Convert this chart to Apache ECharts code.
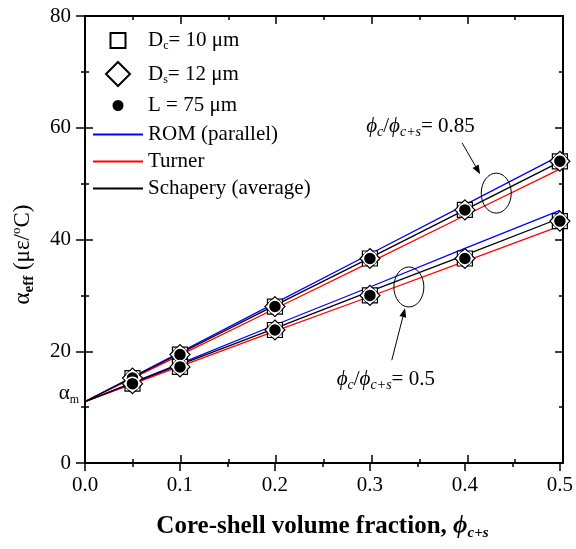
<!DOCTYPE html>
<html>
<head>
<meta charset="utf-8">
<script src="https://cdn.jsdelivr.net/npm/echarts@6/dist/echarts.min.js"></script>
<style>
  html, body { margin: 0; padding: 0; background: #fff; }
  #main { width: 576px; height: 549px; }
</style>
</head>
<body>
<div id="main"></div>
<script>
// model curves
const xLine = [0, 0.1, 0.2, 0.3, 0.4, 0.5];
const romHigh = [11, 19.8, 28.6, 37.4, 46.2, 55.0];
const schHigh = [11, 19.6, 28.2, 36.7, 45.3, 53.9];
const turHigh = [11, 19.3, 27.6, 35.9, 44.3, 52.6];
const romLow = [11, 17.8, 24.7, 31.5, 38.4, 45.2];
const schLow = [11, 17.6, 24.1, 30.7, 37.2, 43.8];
const turLow = [11, 17.3, 23.6, 29.8, 36.1, 42.4];

// measured points (three specimen types overlap)
const xMark = [0.05, 0.1, 0.2, 0.3, 0.4, 0.5];
const markHigh = [15.2, 19.4, 28.0, 36.6, 45.3, 54.0];
const markLow = [14.2, 17.2, 23.8, 30.0, 36.6, 43.3];

const alphaM = 11;

const FONT = 'Liberation Serif';
const pairs = (xs, ys) => xs.map((x, i) => [x, ys[i]]);

let myChart = echarts.init(document.getElementById('main'));

const lineSeries = (name, color, ys) => ({
    name: name, type: 'line', data: pairs(xLine, ys),
    xAxisIndex: 0, yAxisIndex: 0,
    symbol: 'none', z: 2,
    lineStyle: {color: color, width: 1.3}, itemStyle: {color: color}
});
const markSeries = (name, symbol, size, fill, border, bw, z) => ({
    name: name, type: 'scatter', data: pairs(xMark, markHigh).concat(pairs(xMark, markLow)),
    xAxisIndex: 0, yAxisIndex: 0,
    symbol: symbol, symbolSize: size, z: z,
    itemStyle: {color: fill, borderColor: border, borderWidth: bw, opacity: 1}
});

const txt = {fontFamily: FONT, fontSize: 21, color: '#000'};
const sub = {fontFamily: FONT, fontSize: 12, color: '#000', padding: [11, 0, 0, 0]};
const legendNames = {
    Dc: 'D{s|c}{t|= 10 μm}',
    Ds: 'D{s|s}{t|= 12 μm}',
    L: '{t|L = 75 μm}',
    ROM: '{t|ROM (parallel)}',
    Turner: '{t|Turner}',
    Schapery: '{t|Schapery (average)}'
};
// marker legends: square icon box, text pushed to the same column as line legends
const legendMark = (name, top, size) => ({
    data: [name], left: 117 - size / 2, top: top, orient: 'vertical',
    itemWidth: size, itemHeight: size, padding: 0,
    selectedMode: false,
    formatter: n => '{g|}' + legendNames[n],
    textStyle: Object.assign({}, txt, {rich: {t: txt, s: sub, g: {width: 25 - size / 2}}})
});

const tick = (inside, len) => ({show: true, inside: inside, length: len, lineStyle: {color: '#000', width: 1.5}});
const minor = {show: true, splitNumber: 2, length: 4, lineStyle: {color: '#000', width: 1.5}};
const axLine = {show: true, onZero: false, lineStyle: {color: '#000', width: 2}};

const bareX = (pos, inside) => ({
    type: 'value', gridIndex: 1, position: pos, min: 0, max: 0.5, interval: 0.1,
    axisLine: axLine, axisTick: tick(inside, 8), minorTick: minor,
    axisLabel: {show: false}, splitLine: {show: false}
});
const bareY = (pos, inside) => ({
    type: 'value', gridIndex: 1, position: pos, min: 0, max: 80, interval: 20,
    axisLine: axLine, axisTick: tick(inside, 8), minorTick: minor,
    axisLabel: {show: false}, splitLine: {show: false}
});

const options = {
    animation: false,
    grid: [
        {left: 85, right: 13, top: 16, bottom: 86},
        {left: 85, right: 13, top: 16, bottom: 86}
    ],
    xAxis: [
        {
            type: 'value', gridIndex: 0, position: 'bottom', min: 0, max: 0.5, interval: 0.1,
            axisLine: axLine, axisTick: tick(false, 8), minorTick: minor, splitLine: {show: false},
            axisLabel: {margin: 12, fontFamily: FONT, fontSize: 21, color: '#000',
                formatter: v => v.toFixed(1)},
            name: '{b|Core-shell volume fraction, }{p|ϕ}{ps|c+s}',
            nameLocation: 'middle', nameGap: 50,
            nameTextStyle: {rich: {
                b: {fontFamily: FONT, fontWeight: 'bold', fontSize: 25, color: '#000'},
                p: {fontFamily: FONT, fontWeight: 'bold', fontStyle: 'italic', fontSize: 25, color: '#000'},
                ps: {fontFamily: FONT, fontWeight: 'bold', fontStyle: 'italic', fontSize: 15, color: '#000', padding: [13, 0, 0, 0]}
            }}
        },
        bareX('bottom', true),
        bareX('top', true)
    ],
    yAxis: [
        {
            type: 'value', gridIndex: 0, position: 'left', min: 0, max: 80, interval: 20,
            axisLine: axLine, axisTick: tick(false, 9), minorTick: minor, splitLine: {show: false},
            axisLabel: {margin: 14, fontFamily: FONT, fontSize: 21, color: '#000'},
            name: '{a|α}{e|eff}{a| (με/}{o|o}{a|C)}',
            nameLocation: 'middle', nameGap: 48, nameRotate: 90,
            nameTextStyle: {padding: [0, 30, 0, 0], rich: {
                a: {fontFamily: FONT, fontSize: 23, color: '#000'},
                e: {fontFamily: FONT, fontSize: 15, fontWeight: 'bold', color: '#000', padding: [13, 0, 0, 0]},
                o: {fontFamily: FONT, fontSize: 13, color: '#000', padding: [0, 0, 12, 0]}
            }}
        },
        bareY('left', true),
        bareY('right', true)
    ],
    legend: [
        legendMark('Dc', 30, 15),
        legendMark('Ds', 61, 24),
        legendMark('L', 95, 13),
        {
            data: ['ROM', 'Turner', 'Schapery'], left: 92, top: 124, orient: 'vertical',
            itemWidth: 50, itemHeight: 2, itemGap: 6, padding: 0,
            selectedMode: false,
            formatter: n => legendNames[n],
            textStyle: Object.assign({}, txt, {lineHeight: 21, rich: {t: txt}})
        }
    ],
    series: [
        lineSeries('ROM', '#0000ff', romHigh),
        lineSeries('Turner', '#ff0000', turHigh),
        lineSeries('Schapery', '#000000', schHigh),
        lineSeries('ROM', '#0000ff', romLow),
        lineSeries('Turner', '#ff0000', turLow),
        lineSeries('Schapery', '#000000', schLow),
        markSeries('Dc', 'rect', 15, '#ffffff', '#000000', 1.2, 3),
        markSeries('Ds', 'diamond', 20, '#ffffff', '#000000', 1.2, 4),
        markSeries('L', 'circle', 13, '#000000', '#ffffff', 1.5, 5)
    ]
};
myChart.setOption(options);

// annotations placed in data coordinates
const px = (x, y) => myChart.convertToPixel({xAxisIndex: 0, yAxisIndex: 0}, [x, y]);
const arrow = (from, to) => {
    const a = px(from[0], from[1]), b = px(to[0], to[1]);
    const ang = Math.atan2(b[1] - a[1], b[0] - a[0]);
    const L = 9, W = 3.5;
    const bx = b[0] - L * Math.cos(ang), by = b[1] - L * Math.sin(ang);
    const nx = -Math.sin(ang) * W, ny = Math.cos(ang) * W;
    return [
        {type: 'line', shape: {x1: a[0], y1: a[1], x2: bx, y2: by}, style: {stroke: '#000', lineWidth: 1}, z: 10},
        {type: 'polygon', shape: {points: [[b[0], b[1]], [bx + nx, by + ny], [bx - nx, by - ny]]}, style: {fill: '#000'}, z: 10}
    ];
};
const ellipse = (x, y) => {
    const c = px(x, y);
    return {type: 'ellipse', shape: {cx: c[0], cy: c[1], rx: 15, ry: 20}, style: {fill: 'none', stroke: '#000', lineWidth: 1}, z: 10};
};
const ratioRich = {
    i: {fontFamily: FONT, fontStyle: 'italic', fontSize: 21, color: '#000'},
    is: {fontFamily: FONT, fontStyle: 'italic', fontSize: 14, color: '#000', padding: [12, 0, 0, 0]},
    t: {fontFamily: FONT, fontSize: 21, color: '#000'}
};
const label = (x, y, str) => {
    const p = px(x, y);
    return {type: 'text', x: p[0], y: p[1], z: 10,
        style: {text: str, rich: ratioRich, verticalAlign: 'middle', align: 'left'}};
};
const am = px(0, alphaM);
myChart.setOption({
    graphic: [
        ellipse(0.433, 48.3),
        ellipse(0.341, 31.5)
    ].concat(arrow([0.397, 57.3], [0.416, 51.7]))
     .concat(arrow([0.323, 18.4], [0.337, 27.7]))
     .concat([
        label(0.296, 60.3, '{i|ϕ}{is|c}{t|/}{i|ϕ}{is|c+s}{t|= 0.85}'),
        label(0.265, 14.9, '{i|ϕ}{is|c}{t|/}{i|ϕ}{is|c+s}{t|= 0.5}'),
        {type: 'text', x: am[0] - 6, y: am[1] - 8, z: 10,
            style: {text: '{a|α}{m|m}', align: 'right', verticalAlign: 'middle',
                rich: {a: {fontFamily: FONT, fontSize: 21, color: '#000'},
                       m: {fontFamily: FONT, fontSize: 12, color: '#000', padding: [12, 0, 0, 0]}}}}
    ])
});
</script>
</body>
</html>
